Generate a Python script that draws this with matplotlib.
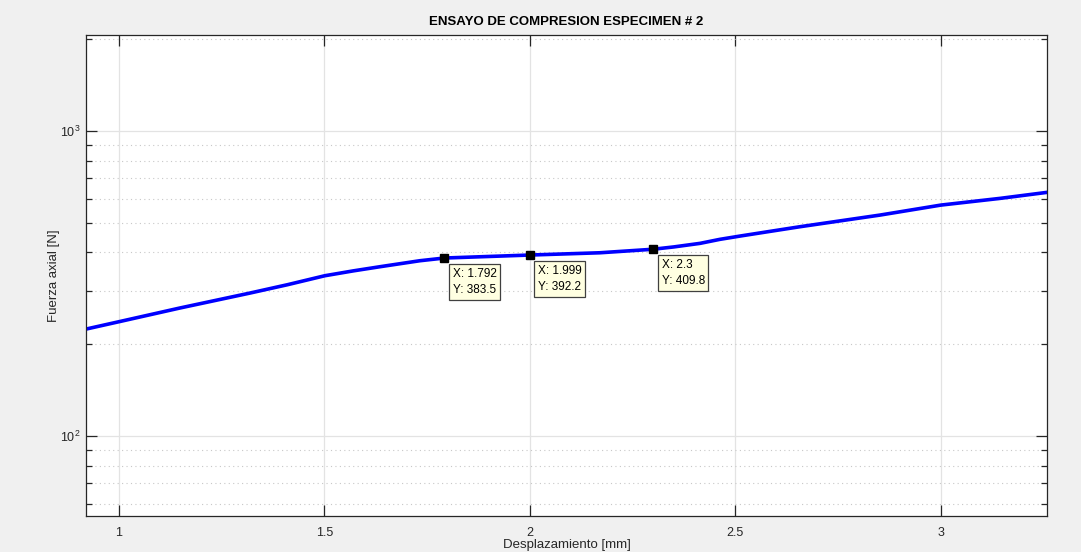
import matplotlib
matplotlib.use("Agg")
import matplotlib.pyplot as plt
from matplotlib.ticker import LogLocator, FixedLocator, NullFormatter

plt.rcParams["font.family"] = ["Liberation Sans", "DejaVu Sans"]
plt.rcParams["mathtext.fontset"] = "custom"
plt.rcParams["mathtext.rm"] = "Liberation Sans"
plt.rcParams["mathtext.it"] = "Liberation Sans:italic"
plt.rcParams["mathtext.default"] = "regular"

# Load-displacement readings from the compression test
desplazamiento = [0.920, 1.000, 1.148, 1.319, 1.410, 1.501, 1.570, 1.635, 1.732,
                  1.792, 1.999, 2.170, 2.300, 2.350, 2.414, 2.462, 2.511, 2.580,
                  2.657, 2.852, 3.000, 3.144, 3.258]
fuerza = [224.3, 237.1, 262.9, 294.4, 313.5, 335.5, 348.0, 359.1, 375.7,
          383.5, 392.2, 399.0, 409.8, 417.0, 428.4, 441.5, 452.6, 468.0,
          485.7, 530.4, 571.9, 601.6, 629.5]

# Data tips
tip_x = [1.792, 1.999, 2.3]
tip_y = [383.5, 392.2, 409.8]

x_ticks = [1, 1.5, 2, 2.5, 3]
x_tick_labels = ["1", "1.5", "2", "2.5", "3"]

fig = plt.figure(figsize=(10.81, 5.52), dpi=100, facecolor="#f0f0f0")
ax = fig.add_axes([0.0796, 0.0652, 0.8889, 0.8714])
ax.set_facecolor("white")

ax.plot(desplazamiento, fuerza, color=(0, 0, 1), linewidth=2.6,
        solid_capstyle="round", solid_joinstyle="round")
ax.set_yscale("log")
ax.set_xlim(0.92, 3.258)
ax.set_ylim(54.7, 2065)

ax.xaxis.set_major_locator(FixedLocator(x_ticks))
ax.set_xticklabels(x_tick_labels)
ax.yaxis.set_major_locator(LogLocator(base=10, numticks=10))
ax.yaxis.set_minor_locator(LogLocator(base=10, subs=range(2, 10), numticks=20))
ax.yaxis.set_minor_formatter(NullFormatter())

ax.grid(which="major", axis="both", color="#e3e3e3", linestyle="-", linewidth=0.9)
ax.grid(which="minor", axis="y", color="#c8c8c8", linestyle=(0, (1, 3)), linewidth=0.8)
ax.set_axisbelow(True)

for s in ax.spines.values():
    s.set_color("#262626")
    s.set_linewidth(0.9)

ax.tick_params(which="both", direction="in", top=True, right=True, colors="#262626",
               labelsize=9, labelcolor="#262626")
ax.tick_params(which="major", length=8, width=0.9)
ax.tick_params(which="minor", length=4, width=0.9)
ax.tick_params(axis="x", pad=8)
ax.tick_params(axis="y", pad=4)

ax.set_title("ENSAYO DE COMPRESION ESPECIMEN # 2", fontsize=9.5, fontweight="bold",
             color="black", pad=7)
ax.set_xlabel("Desplazamiento [mm]", fontsize=9.5, color="#262626", labelpad=0)
ax.set_ylabel("Fuerza axial [N]", fontsize=9.5, color="#262626", labelpad=0)

ax.plot(tip_x, tip_y, linestyle="none", marker="s", markersize=6,
        markerfacecolor="black", markeredgecolor="black", zorder=5)
for xv, yv in zip(tip_x, tip_y):
    ax.annotate(f"X: {xv:g}\nY: {yv:.1f}", xy=(xv, yv), xytext=(6, -7),
                textcoords="offset points", ha="left", va="top", fontsize=8.5,
                color="black", linespacing=1.5,
                bbox=dict(boxstyle="square,pad=0.3", facecolor="#ffffe1",
                          edgecolor="#404040", linewidth=0.9), zorder=6)

fig.savefig("out.png", dpi=100, facecolor=fig.get_facecolor())
